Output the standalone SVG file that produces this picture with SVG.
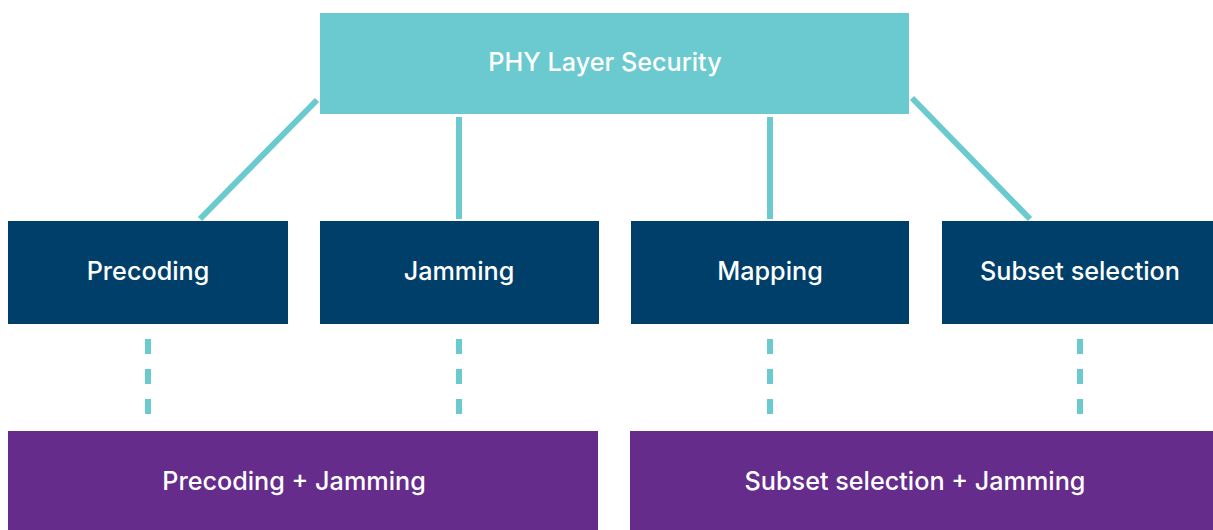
<svg xmlns="http://www.w3.org/2000/svg" width="1213" height="530" viewBox="0 0 1213 530">
<style>
.lbl{font-family:Inter,"Liberation Sans",sans-serif;font-size:25.2px;font-weight:500;fill:#ffffff;text-anchor:middle;dominant-baseline:central}
.top{fill:#6BCACF}
.mid{fill:#003F6A}
.bot{fill:#652C8B}
.conn{stroke:#6BCACF;stroke-width:6;fill:none}
.dash{stroke:#6BCACF;stroke-width:6;stroke-dasharray:15 15;fill:none}
</style>
<rect width="1213" height="530" fill="#ffffff"/>
<g id="connectors">
<line class="conn" x1="317" y1="100" x2="200" y2="219"/>
<line class="conn" x1="459" y1="117" x2="459" y2="219"/>
<line class="conn" x1="770" y1="117" x2="770" y2="219"/>
<line class="conn" x1="912" y1="98" x2="1030" y2="219"/>
<line class="dash" x1="148" y1="339" x2="148" y2="416"/>
<line class="dash" x1="459" y1="339" x2="459" y2="416"/>
<line class="dash" x1="770" y1="339" x2="770" y2="416"/>
<line class="dash" x1="1080" y1="339" x2="1080" y2="416"/>
</g>
<g id="phy">
<rect class="top" x="320" y="13" width="589" height="101"/>
<text class="lbl" x="605" y="62">PHY Layer Security</text>
</g>
<g id="precoding">
<rect class="mid" x="8" y="221" width="280" height="103"/>
<text class="lbl" x="148" y="271">Precoding</text>
</g>
<g id="jamming">
<rect class="mid" x="320" y="221" width="279" height="103"/>
<text class="lbl" x="459" y="271">Jamming</text>
</g>
<g id="mapping">
<rect class="mid" x="631" y="221" width="278" height="103"/>
<text class="lbl" x="770" y="271">Mapping</text>
</g>
<g id="subset">
<rect class="mid" x="942" y="221" width="280" height="103"/>
<text class="lbl" x="1080" y="271">Subset selection</text>
</g>
<g id="precoding-jamming">
<rect class="bot" x="8" y="431" width="590" height="110"/>
<text class="lbl" x="294" y="481">Precoding + Jamming</text>
</g>
<g id="subset-jamming">
<rect class="bot" x="630" y="431" width="600" height="110"/>
<text class="lbl" x="915" y="481">Subset selection + Jamming</text>
</g>
</svg>
